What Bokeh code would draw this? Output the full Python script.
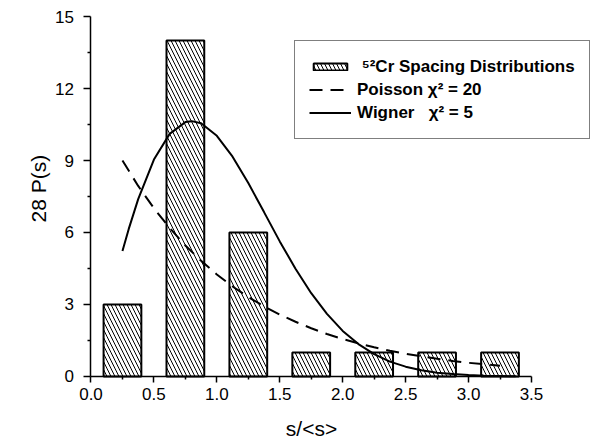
from bokeh.plotting import figure
from bokeh.models import Range1d, FixedTicker, Legend, LegendItem, Title, Label, NumeralTickFormatter
from bokeh.embed import file_html
from bokeh.resources import INLINE

# ---- data ----
bin_centers = [0.25, 0.75, 1.25, 1.75, 2.25, 2.75, 3.25]
bin_counts = [3, 14, 6, 1, 1, 1, 1]
bin_width = 0.3

poisson_s = [0.25, 0.375, 0.5, 0.625, 0.75, 0.875, 1.0, 1.125, 1.25, 1.375, 1.5, 1.625,
             1.75, 1.875, 2.0, 2.125, 2.25, 2.375, 2.5, 2.625, 2.75, 2.875, 3.0, 3.125, 3.25]
poisson_p = [9.0, 7.94, 7.01, 6.19, 5.46, 4.82, 4.25, 3.75, 3.31, 2.92, 2.58, 2.28,
             2.01, 1.77, 1.56, 1.38, 1.22, 1.07, 0.95, 0.84, 0.74, 0.65, 0.57, 0.51, 0.45]

wigner_s = [0.25, 0.3, 0.375, 0.5, 0.625, 0.75, 0.8, 0.875, 1.0, 1.125, 1.25, 1.375, 1.5,
            1.625, 1.75, 1.875, 2.0, 2.125, 2.25, 2.375, 2.5, 2.625, 2.75, 2.875, 3.0,
            3.125, 3.25, 3.375]
wigner_p = [5.23, 6.15, 7.39, 9.04, 10.11, 10.60, 10.64, 10.55, 10.03, 9.16, 8.06, 6.85, 5.63,
            4.49, 3.47, 2.61, 1.90, 1.35, 0.93, 0.62, 0.41, 0.26, 0.16, 0.10, 0.06,
            0.03, 0.02, 0.01]

x_ticks = [0.0, 0.5, 1.0, 1.5, 2.0, 2.5, 3.0, 3.5]
x_minor = [0.25, 0.75, 1.25, 1.75, 2.25, 2.75, 3.25]
y_ticks = [0, 3, 6, 9, 12, 15]
y_minor = [1.5, 4.5, 7.5, 10.5, 13.5]
x_axis_end = 3.5
y_axis_end = 15

FONT = "Liberation Sans"

# The frame spreads beyond the axes on every side except the left title strip, so tick
# labels and the legend box are not clipped; both axes are pinned at 0 with bounds.
p = figure(width=592, height=440, output_backend="svg", toolbar_location=None,
           x_range=Range1d(-0.3218, 3.985), y_range=Range1d(-2.667, 15.667),
           min_border_left=50, min_border_right=0, min_border_top=0, min_border_bottom=0)
p.outline_line_color = None
p.grid.visible = False
p.background_fill_color = "white"
p.border_fill_color = "white"

for ax in (p.xaxis[0], p.yaxis[0]):
    ax.axis_line_color = "black"
    ax.axis_line_width = 1.5
    ax.major_tick_line_color = "black"
    ax.minor_tick_line_color = "black"
    ax.major_tick_line_width = 1.5
    ax.minor_tick_line_width = 1.5
    ax.major_tick_in = 0
    ax.major_tick_out = 6
    ax.minor_tick_in = 0
    ax.minor_tick_out = 3
    ax.major_label_text_font = FONT
    ax.major_label_text_font_size = "17px"
    ax.major_label_text_color = "black"

p.xaxis[0].ticker = FixedTicker(ticks=x_ticks, minor_ticks=x_minor)
p.xaxis[0].formatter = NumeralTickFormatter(format="0.0")
p.xaxis[0].major_label_standoff = 6
p.xaxis[0].bounds = (0, x_axis_end)
p.xaxis[0].fixed_location = 0
p.yaxis[0].ticker = FixedTicker(ticks=y_ticks, minor_ticks=y_minor)
p.yaxis[0].formatter = NumeralTickFormatter(format="0")
p.yaxis[0].major_label_standoff = 10
p.yaxis[0].major_tick_out = 7
p.yaxis[0].bounds = (0, y_axis_end)
p.yaxis[0].fixed_location = 0

bars = p.vbar(x=bin_centers, top=bin_counts, width=bin_width, bottom=0,
              fill_color="white", line_color="black", line_width=2,
              hatch_pattern="\\", hatch_color="black", hatch_scale=8, hatch_weight=1)

pois = p.line(poisson_s, poisson_p, line_color="black", line_width=2, line_dash="13 8")
wig = p.line(wigner_s, wigner_p, line_color="black", line_width=2)

legend = Legend(items=[
    LegendItem(label=" \u2075\u00b2Cr Spacing Distributions", renderers=[bars]),
    LegendItem(label="Poisson \u03c7\u00b2 = 20", renderers=[pois]),
    LegendItem(label="Wigner\u00a0\u00a0 \u03c7\u00b2 = 5", renderers=[wig]),
], location=(244, 301))
legend.padding = 14
legend.spacing = 0
legend.label_height = 23
legend.glyph_height = 9
legend.glyph_width = 42
legend.label_standoff = 6
legend.border_line_color = "black"
legend.border_line_width = 1
legend.background_fill_color = "white"
legend.background_fill_alpha = 1
legend.label_text_font = FONT
legend.label_text_font_style = "bold"
legend.label_text_font_size = "17px"
legend.label_text_color = "black"
legend.margin = 0
p.add_layout(legend, "center")

xtitle = Label(x=261, y=12, x_units="screen", y_units="screen", text="s/<s>",
               text_font=FONT, text_font_size="21px", text_align="center",
               text_baseline="middle", text_color="black")
p.add_layout(xtitle)
ytitle = Title(text="28 P(s)", align="left", offset=218, standoff=2,
               text_font=FONT, text_font_size="21px", text_font_style="normal",
               text_color="black")
p.add_layout(ytitle, "left")

open("out.html", "w").write(file_html(p, INLINE))
